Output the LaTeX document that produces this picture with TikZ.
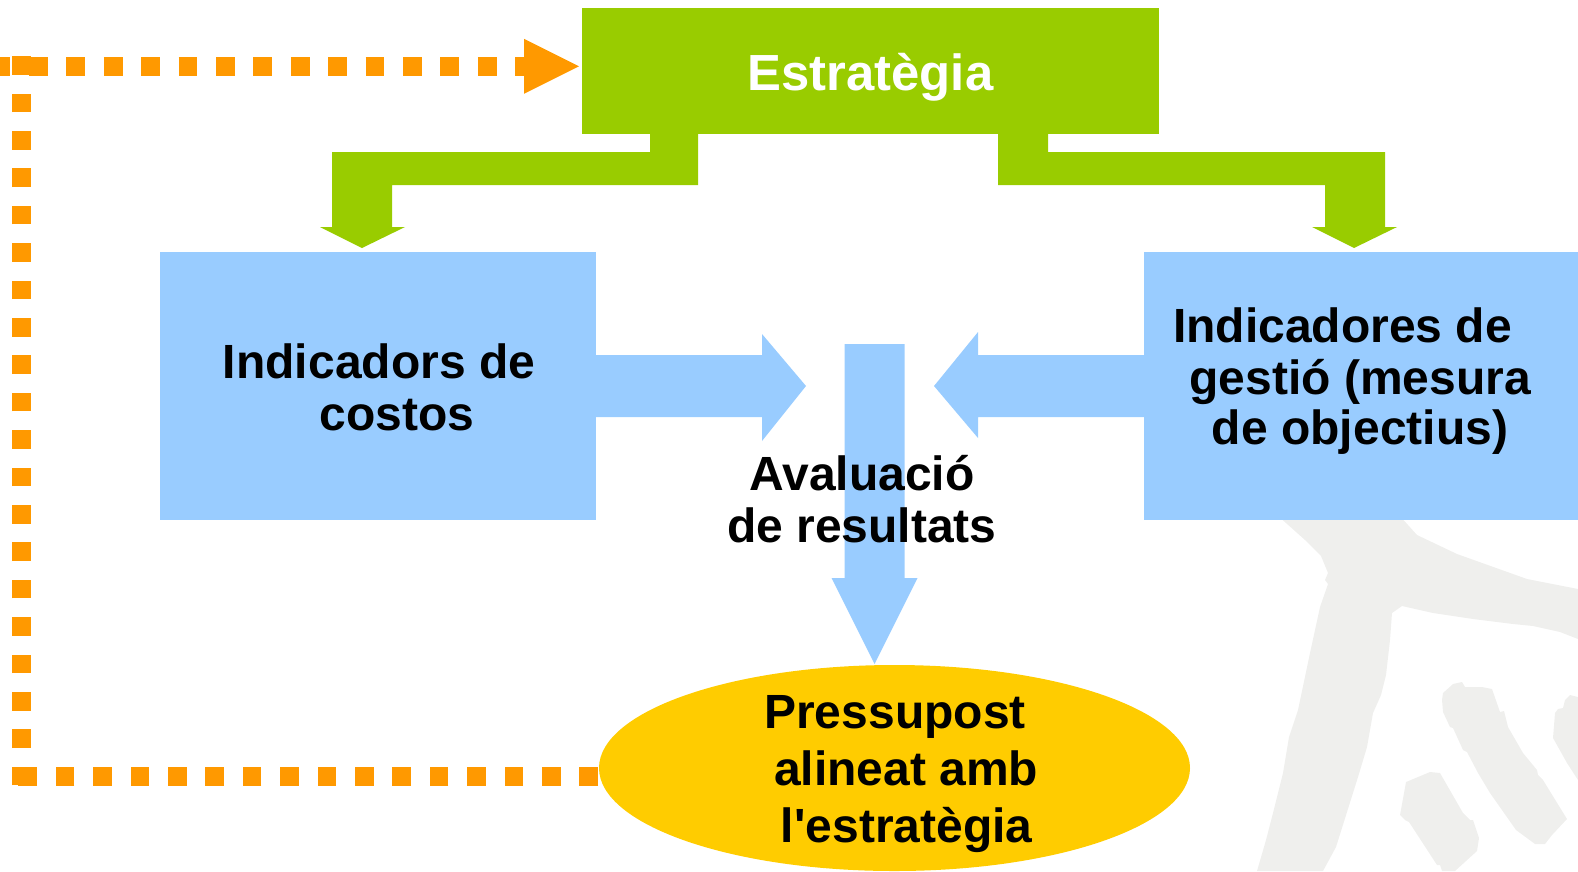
\documentclass[tikz,border=0pt]{standalone}
\usepackage{fontspec}
\setmainfont{Liberation Sans}
\usetikzlibrary{calc,shapes.geometric}
\definecolor{grn}{HTML}{99CC00}
\definecolor{blu}{HTML}{99CCFF}
\definecolor{yel}{HTML}{FFCC00}
\definecolor{org}{HTML}{FF9900}
\definecolor{wmk}{HTML}{EFEFED}
\begin{document}
\begin{tikzpicture}[x=1pt,y=-1pt,
  box/.style={draw=none, rectangle, inner sep=0pt, outer sep=0pt},
  txt/.style={inner sep=0pt, outer sep=0pt, anchor=base, font=\fontsize{48}{52}\selectfont\bfseries},
  ttl/.style={txt, font=\fontsize{50.8}{56}\selectfont\bfseries, text=white},
  dashline/.style={draw=org, line width=18.7pt, dash pattern=on 18.7pt off 18.7pt},
  wm/.style={fill=wmk}]
\useasboundingbox (0,0) rectangle (1578,871);
% watermark
\fill[wm] (1277,515) -- (1305,540) -- (1321,556) -- (1328,573) -- (1325,580) -- (1328,584) -- (1320,607) -- (1310,653) -- (1298,710) -- (1289,737) -- (1283,773) -- (1273,813) -- (1266,840) -- (1257,871) -- (1323,871) -- (1336,847) -- (1358,777) -- (1367,747) -- (1373,713) -- (1381,695) -- (1386,675) -- (1390,640) -- (1392,613) -- (1402,606) -- (1433,613) -- (1473,619) -- (1513,624) -- (1533,626) -- (1560,632) -- (1578,639) -- (1578,589) -- (1527,579) -- (1457,554) -- (1417,535) -- (1399,515) -- cycle;
\fill[wm] (1406,782) -- (1430,772) -- (1440,773) -- (1463,813) -- (1470,820) -- (1473,820) -- (1479,838) -- (1477,851) -- (1455,871) -- (1442,871) -- (1440,865) -- (1437,865) -- (1409,822) -- (1405,820) -- (1400,815) -- cycle;
\fill[wm] (1443,693) -- (1453,684) -- (1462,682) -- (1465,687) -- (1482,687) -- (1492,689) -- (1500,712) -- (1504,711) -- (1508,727) -- (1523,753) -- (1537,770) -- (1538,775) -- (1543,780) -- (1567,819) -- (1552,835) -- (1545,844) -- (1535,844) -- (1516,830) -- (1490,793) -- (1478,773) -- (1467,752) -- (1463,750) -- (1453,728) -- (1450,727) -- (1443,712) -- (1442,700) -- cycle;
\fill[wm] (1565,700) -- (1570,695) -- (1578,697) -- (1578,780) -- (1567,763) -- (1553,738) -- (1555,713) -- (1558,709) -- (1563,708) -- cycle;
% main shapes
\node[box, fill=grn, minimum width=577pt, minimum height=126pt] (estr) at (870.5,71) {};
\node[box, fill=blu, minimum width=436pt, minimum height=268pt] (costos) at (378,386) {};
\node[box, fill=blu, minimum width=434pt, minimum height=268pt] (gestio) at (1361,386) {};
\node[ellipse, fill=yel, draw=none, inner sep=0pt, outer sep=0pt, minimum width=591pt, minimum height=206pt] (ell) at (894.5,768) {};
% green connectors
\fill[grn] (650,133) -- (698,133) -- (698,185) -- (392,185) -- (392,227) -- (405,227) -- (362,248) -- (320,227) -- (332,227) -- (332,152) -- (650,152) -- cycle;
\fill[grn] (998,133) -- (1048,133) -- (1048,152) -- (1385,152) -- (1385,227) -- (1397,227) -- (1354,248) -- (1312,227) -- (1325,227) -- (1325,185) -- (998,185) -- cycle;
% blue arrows
\fill[blu] (595,355) -- (762,355) -- (762,334) -- (806,386) -- (762,441) -- (762,417) -- (595,417) -- cycle;
\fill[blu] (1145,355) -- (978,355) -- (978,332) -- (934,386) -- (978,438) -- (978,417) -- (1145,417) -- cycle;
\fill[blu] (844.5,344) -- (904.5,344) -- (904.5,578) -- (917.5,578) -- (874.5,664) -- (831.5,578) -- (844.5,578) -- cycle;
% orange dashed feedback (three sub-paths, each restarting the dash pattern)
\coordinate (cb) at (18,776.7);
\coordinate (vb) at (21.8,785.4);
\coordinate (vt) at (21.8,56);
\coordinate (ht) at (-8.4,66.3);
\coordinate (he) at (530,66.3);
\draw[dashline] ([shift={(-1pt,-8.7pt)}]ell.west) -- (cb)
                (vb) -- (vt)
                (ht) -- (he);
\fill[org] ($(estr.west)+(-3,-4.7)$) -- ++(-55,-27.5) -- ++(0,55) -- cycle;
% texts
\node[ttl] (t0) at (870.5,90) {Estratègia};
\node[txt] (c1) at (379,378.7) {Indicadors de};
\node[txt] (c2) at (397,430.7) {costos};
\node[txt] (g1) at (1342.5,342.7) {Indicadores de};
\node[txt] (g2) at (1360.3,394) {gestió (mesura};
\node[txt] (g3) at (1360,444) {de objectius)};
\node[txt] (a1) at (862,490.7) {Avaluació};
\node[txt] (a2) at (862,542.7) {de resultats};
\node[txt] (p1) at (895,728.3) {Pressupost};
\node[txt] (p2) at (906.3,785) {alineat amb};
\node[txt] (p3) at (906.7,842.7) {l\textquotesingle estratègia};
\end{tikzpicture}
\end{document}
